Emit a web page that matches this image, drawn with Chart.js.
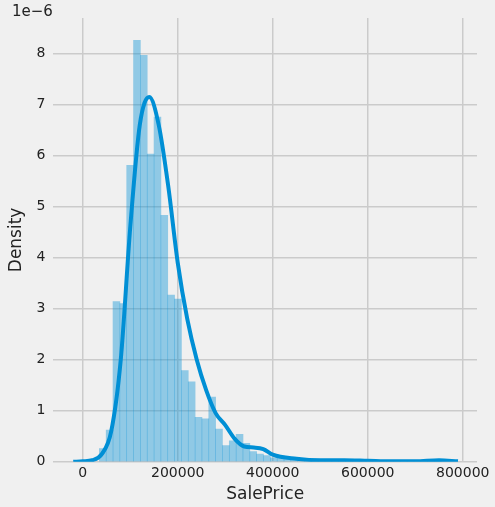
<!DOCTYPE html>
<html>
<head>
<script src="https://cdn.jsdelivr.net/npm/chart.js@4"></script>
<style>
  body { margin: 0; background: #f0f0f0; }
  #wrap { position: relative; width: 495px; height: 507px; }
  #exp { position: absolute; left: 12px; top: 2px; font: 15px "DejaVu Sans"; color: #222; }
</style>
</head>
<body>
<div id="wrap"><canvas id="myChart" width="495" height="507"></canvas><div id="exp">1e−6</div></div>
<script>
// histogram bins (start 34900, width 14400), density in 1e-6
const binStart = 34900;
const binWidth = 14400;
const binHeights = [0.26, 0.62, 3.14, 3.10, 5.81, 8.26, 7.97, 6.03, 6.76, 4.83,
  3.27, 3.19, 1.79, 1.57, 0.87, 0.84, 1.27, 0.64, 0.32, 0.41,
  0.54, 0.36, 0.20, 0.15, 0.12, 0.08, 0.08, 0.05, 0.03, 0.03,
  0.02, 0.03, 0.03, 0.04, 0.02, 0.0, 0.02, 0.0, 0.0, 0.0,
  0.0, 0.0, 0.0, 0.0, 0.0, 0.0, 0.0, 0.0, 0.02, 0.02];

// kde curve
const kdeX = [-20000, 0, 20000, 40000, 60000, 80000, 100000, 120000, 140000, 160000, 180000,
  200000, 220000, 240000, 260000, 280000, 300000, 320000, 340000, 360000, 380000, 400000,
  450000, 500000, 550000, 600000, 650000, 700000, 750000, 790000];
const kdeY = [0.0, 0.01, 0.03, 0.15, 0.6, 2.0, 4.6, 6.6, 7.15, 6.6, 5.4,
  3.9, 2.8, 2.0, 1.4, 0.95, 0.72, 0.45, 0.3, 0.28, 0.25, 0.14,
  0.06, 0.03, 0.03, 0.02, 0.01, 0.01, 0.03, 0.01];

const xTicks = [0, 200000, 400000, 600000, 800000];

const bars = binHeights.map((h, i) => ({ x: binStart + binWidth * (i + 0.5), y: h }));
const kde = kdeX.map((x, i) => ({ x: x, y: kdeY[i] }));

const ctx = document.getElementById("myChart").getContext("2d");
new Chart(ctx, {
  data: {
    datasets: [
      {
        type: "line",
        data: kde,
        borderColor: "#008fd5",
        borderWidth: 4,
        pointRadius: 0,
        tension: 0.4,
        cubicInterpolationMode: "monotone",
      },
      {
        type: "bar",
        data: bars,
        backgroundColor: "rgba(0, 143, 213, 0.4)",
        barPercentage: 1,
        categoryPercentage: 1,
        borderWidth: 0,
      },
    ],
  },
  options: {
    responsive: false,
    animation: false,
    layout: { padding: { top: 18, right: 18, left: 4, bottom: 2 } },
    plugins: { legend: { display: false }, tooltip: { enabled: false } },
    scales: {
      x: {
        type: "linear",
        offset: false,
        min: -62000,
        max: 830000,
        afterBuildTicks: axis => { axis.ticks = xTicks.map(v => ({ value: v })); },
        ticks: { color: "#222", font: { size: 14, family: "DejaVu Sans" }, autoSkip: false, callback: v => String(v) },
        grid: { color: "#cbcbcb", lineWidth: 1.5, drawTicks: false, offset: false },
        border: { display: false },
        title: { display: true, text: "SalePrice", color: "#222", font: { size: 17, family: "DejaVu Sans" }, padding: 0 },
      },
      y: {
        min: 0,
        max: 8.7,
        afterBuildTicks: axis => { axis.ticks = [0,1,2,3,4,5,6,7,8].map(v => ({ value: v })); },
        ticks: { color: "#222", font: { size: 14, family: "DejaVu Sans" }, padding: 8 },
        grid: { color: "#cbcbcb", lineWidth: 1.5, drawTicks: false },
        border: { display: false },
        title: { display: true, text: "Density", color: "#222", font: { size: 17, family: "DejaVu Sans" }, padding: 2 },
      },
    },
  },
});
</script>
</body>
</html>
